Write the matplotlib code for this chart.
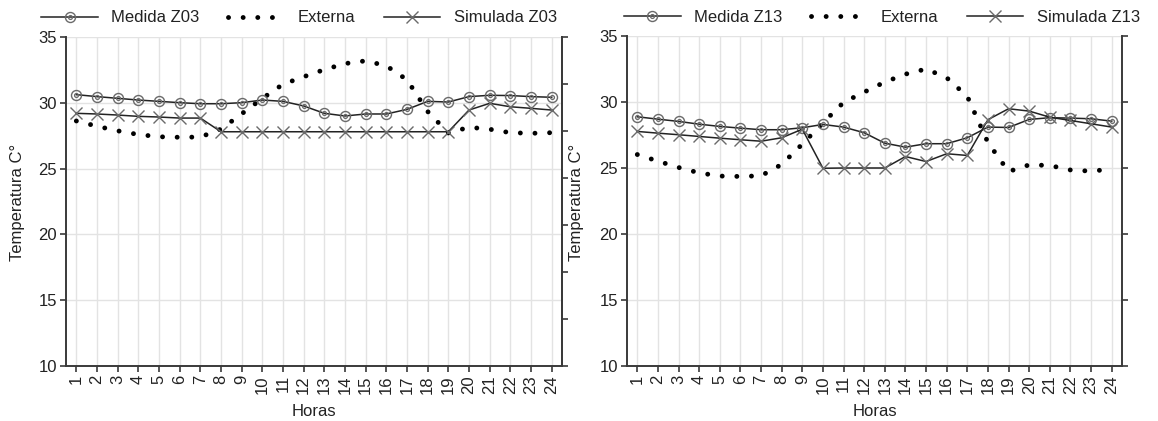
import matplotlib
matplotlib.use("Agg")
import matplotlib.pyplot as plt
from matplotlib.legend_handler import HandlerTuple

plt.rcParams['font.family'] = ['Liberation Sans', 'DejaVu Sans']

horas = list(range(1, 25))

# Panel Z03
medida_z03 = [30.62, 30.47, 30.34, 30.21, 30.11, 30.01, 29.93, 29.93, 30.01, 30.21, 30.11, 29.76,
              29.20, 29.00, 29.15, 29.15, 29.50, 30.11, 30.06, 30.47, 30.57, 30.55, 30.47, 30.42]
externa_z03 = [28.62, 28.22, 27.87, 27.59, 27.42, 27.38, 27.40, 28.00, 29.16, 30.33, 31.41, 31.98,
               32.52, 32.98, 33.19, 32.81, 31.75, 29.34, 27.71, 28.14, 27.99, 27.73, 27.68, 27.73]
simulada_z03 = [29.20, 29.15, 29.07, 28.97, 28.92, 28.84, 28.84, 27.80, 27.80, 27.80, 27.80, 27.80,
                27.80, 27.80, 27.80, 27.80, 27.80, 27.80, 27.80, 29.45, 29.96, 29.70, 29.58, 29.45]

# Panel Z13
medida_z13 = [28.88, 28.70, 28.53, 28.32, 28.15, 28.02, 27.90, 27.90, 28.05, 28.30, 28.10, 27.67,
              26.88, 26.58, 26.84, 26.84, 27.29, 28.10, 28.07, 28.68, 28.81, 28.78, 28.73, 28.55]
externa_z13 = [26.02, 25.52, 25.04, 24.63, 24.39, 24.36, 24.41, 25.27, 26.81, 28.42, 29.97, 30.75,
               31.51, 32.11, 32.50, 31.84, 30.42, 26.93, 24.73, 25.24, 25.19, 24.85, 24.76, 24.92]
simulada_z13 = [27.77, 27.64, 27.52, 27.39, 27.26, 27.14, 27.03, 27.29, 27.94, 24.98, 25.00, 25.00,
                25.00, 25.87, 25.49, 26.08, 25.95, 28.66, 29.49, 29.31, 28.85, 28.60, 28.35, 28.10]

panels = [
    ("Z03", medida_z03, externa_z03, simulada_z03),
    ("Z13", medida_z13, externa_z13, simulada_z13),
]

W, H = 1158, 421
fig = plt.figure(figsize=(W / 100, H / 100), dpi=100)
rects = [(66, 562, 37, 366), (627, 1122, 36, 366)]

spine_c = '#3a3a3a'
grid_c = '#e3e3e3'
line_c = '#222222'
mark_c = '#6a6a6a'
tlen = 4.5

for i, ((name, med, ext, sim), (x0, x1, y0, y1)) in enumerate(zip(panels, rects)):
    ax = fig.add_axes([x0 / W, 1 - y1 / H, (x1 - x0) / W, (y1 - y0) / H])
    ax.set_xlim(0.5, 24.5)
    ax.set_ylim(10, 35)
    ax.set_xticks(horas)
    ax.set_xticklabels([str(h) for h in horas], rotation=90, fontsize=12, color='#222')
    ax.set_yticks([10, 15, 20, 25, 30, 35])
    ax.tick_params(axis='y', labelsize=12, labelcolor='#222', direction='out',
                   length=tlen, width=1.2, color=spine_c, pad=2, right=True, labelright=False)
    ax.tick_params(axis='x', direction='out', length=tlen, width=1.2, color=spine_c, pad=2)
    ax.grid(True, color=grid_c, linewidth=1.0)
    ax.set_axisbelow(True)
    for s in ['left', 'bottom', 'right']:
        ax.spines[s].set_color(spine_c)
        ax.spines[s].set_linewidth(1.4)
    ax.spines['top'].set_visible(False)

    # Externa: dotted line
    le, = ax.plot(horas, ext, color='black', linewidth=3.5, linestyle=(0, (0.01, 3.0)),
                  dash_capstyle='round', solid_capstyle='round')
    # Medida: line with circled dot markers
    lm, = ax.plot(horas, med, color=line_c, linewidth=1.1, marker='o', markersize=7.2,
                  markerfacecolor='none', markeredgecolor=mark_c, markeredgewidth=1.0)
    lm2, = ax.plot(horas, med, linestyle='none', marker='o', markersize=2.8,
                   markerfacecolor='none', markeredgecolor=mark_c, markeredgewidth=0.9)
    # Simulada: line with x markers
    ls, = ax.plot(horas, sim, color=line_c, linewidth=1.1, marker='x', markersize=8,
                  markeredgecolor=mark_c, markeredgewidth=1.0)

    if i == 0:
        ax.tick_params(axis='y', right=False)
        axr = ax.twinx()
        axr.set_ylim(0, 7)
        axr.set_yticks(range(8))
        axr.set_yticklabels([])
        axr.tick_params(axis='y', direction='out', length=tlen, width=1.2, color=spine_c)
        for s in ['left', 'bottom', 'top']:
            axr.spines[s].set_visible(False)
        axr.spines['right'].set_color(spine_c)
        axr.spines['right'].set_linewidth(1.4)

    leg = ax.legend([(lm, lm2), le, ls],
                    ["Medida " + name, "Externa", "Simulada " + name],
                    handler_map={tuple: HandlerTuple(ndivide=1)},
                    loc='center', bbox_to_anchor=((0.47 if i == 0 else 0.515), 1.0 + 19 / (y1 - y0)),
                    ncol=3, frameon=False, fontsize=12, handlelength=3.4,
                    handletextpad=0.8, columnspacing=1.7, borderaxespad=0, borderpad=0)
    for t in leg.get_texts():
        t.set_color('#222')

    fig.text(((x0 + x1) / 2) / W, 1 - 411 / H, "Horas", ha='center', va='center',
             fontsize=12, color='#222')

fig.text(18 / W, 1 - 202 / H, "Temperatura C°", rotation=90, ha='center', va='center',
         fontsize=12, color='#222')
fig.text(577 / W, 1 - 202 / H, "Temperatura C°", rotation=90, ha='center', va='center',
         fontsize=12, color='#222')

fig.savefig("out.png", dpi=100)
